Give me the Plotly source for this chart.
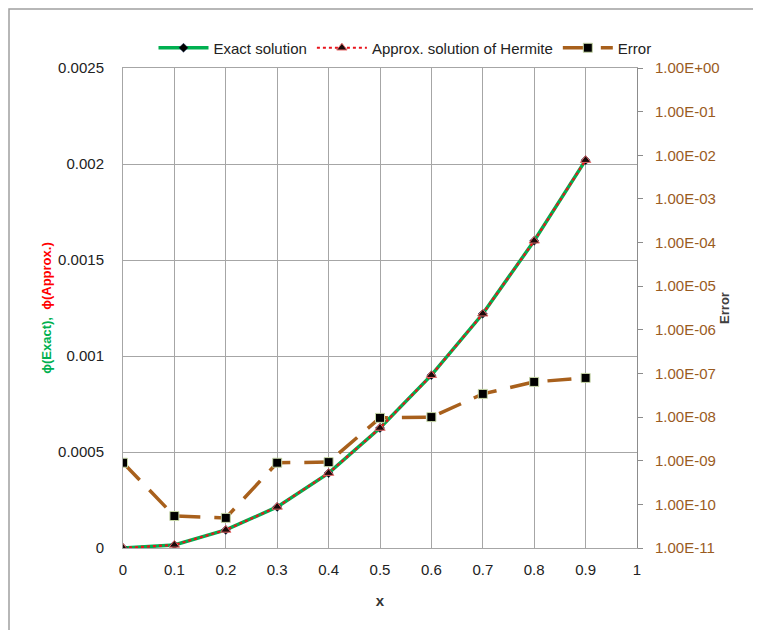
import plotly.graph_objects as go

x = [0, 0.1, 0.2, 0.3, 0.4, 0.5, 0.6, 0.7, 0.8, 0.9]
phi_exact = [0.0, 0.000016, 0.000094, 0.000214, 0.00039, 0.000625, 0.0009, 0.00122, 0.0016, 0.00202]
phi_approx = [0.0, 0.000016, 0.000094, 0.000214, 0.00039, 0.000625, 0.0009, 0.00122, 0.0016, 0.00202]
error = [9.0e-10, 5.4e-11, 4.9e-11, 9.0e-10, 9.3e-10, 9.6e-9, 1.0e-8, 3.4e-8, 6.4e-8, 7.9e-8]

left_ticks = [0, 0.0005, 0.001, 0.0015, 0.002, 0.0025]
left_labels = ["0", "0.0005", "0.001", "0.0015", "0.002", "0.0025"]
right_ticks = [10.0 ** e for e in range(-11, 1)]
right_labels = ["1.00E-11", "1.00E-10", "1.00E-09", "1.00E-08", "1.00E-07", "1.00E-06",
                "1.00E-05", "1.00E-04", "1.00E-03", "1.00E-02", "1.00E-01", "1.00E+00"]
x_ticks = [0, 0.1, 0.2, 0.3, 0.4, 0.5, 0.6, 0.7, 0.8, 0.9, 1]
x_labels = ["0", "0.1", "0.2", "0.3", "0.4", "0.5", "0.6", "0.7", "0.8", "0.9", "1"]

GREEN = "#00B050"
RED = "#E8141C"
BROWN = "#A8601C"
GRID = "#A6A6A6"
FONT = "Liberation Sans, Arial, sans-serif"

# page body adds an 8px offset; plot area on screen: x 123..637, y 68..548
OFF = 8
W, H = 761 - OFF, 630 - OFF
L, T = 123 - OFF, 68 - OFF
R = OFF + W - 637
B = OFF + H - 548
PW, PH = 637 - 123, 548 - 68


def px(sx):
    return (sx - 123) / PW


def py(sy):
    return (548 - sy) / PH


fig = go.Figure()
fig.add_trace(go.Scatter(
    x=x, y=phi_exact, name="Exact solution", mode="lines+markers",
    line=dict(color=GREEN, width=3.5),
    marker=dict(symbol="diamond", size=7, color="#000000", line=dict(color="#1F3864", width=0.5)),
))
fig.add_trace(go.Scatter(
    x=x, y=phi_approx, name="Approx. solution of Hermite", mode="lines+markers",
    line=dict(color=RED, width=2.2, dash="dot"),
    marker=dict(symbol="triangle-up", size=9, color="#1A0A0A", line=dict(color="#E86A6A", width=1)),
))
fig.add_trace(go.Scatter(
    x=x, y=error, name="Error", mode="lines+markers", yaxis="y2",
    line=dict(color=BROWN, width=3.5, dash="24px,14px"),
    marker=dict(symbol="square", size=9, color="#000000", line=dict(color="#C8D8A8", width=1)),
))

fig.update_layout(
    width=W, height=H,
    margin=dict(l=L, r=R, t=T, b=B),
    paper_bgcolor="white", plot_bgcolor="white",
    font=dict(family=FONT, size=15, color="#222222"),
    showlegend=True,
    legend=dict(orientation="h", x=px(405), xanchor="center", y=py(48), yanchor="middle",
                font=dict(family=FONT, size=15, color="#222222"),
                bgcolor="rgba(0,0,0,0)", itemwidth=50, tracegroupgap=0),
    xaxis=dict(
        range=[0, 1], tickvals=x_ticks, ticktext=x_labels,
        showgrid=True, gridcolor=GRID, gridwidth=1,
        zeroline=False, showline=True, linecolor=GRID, linewidth=1, mirror=True,
        ticks="", ticklabelstandoff=8,
        tickfont=dict(size=15, color="#222222"),
        title=dict(text="<b>x</b>", font=dict(size=15, color="#333333"), standoff=18),
    ),
    yaxis=dict(
        range=[0, 0.0025], tickvals=left_ticks, ticktext=left_labels,
        showgrid=True, gridcolor=GRID, gridwidth=1,
        zeroline=False, showline=True, linecolor=GRID, linewidth=1,
        ticks="", ticklabelstandoff=15,
        tickfont=dict(size=15, color="#222222"),
        title=dict(text="<b><span style='color:#00B050'>ϕ(Exact),</span>  <span style='color:#FF0000'>ϕ(Approx.)</span></b>",
                   font=dict(size=13), standoff=3),
    ),
    yaxis2=dict(
        type="log", range=[-11, 0], overlaying="y", side="right",
        tickvals=right_ticks, ticktext=right_labels,
        showgrid=False, zeroline=False, showline=True, linecolor="#8C8C8C", linewidth=1,
        ticks="outside", ticklen=5, tickcolor="#8C8C8C", ticklabelstandoff=9,
        tickfont=dict(size=15, color="#9A5B1E"),
        title=dict(text="<b>Error</b>", font=dict(size=13, color="#404040"), standoff=1),
    ),
    shapes=[
        dict(type="rect", xref="paper", yref="paper",
             x0=px(9), x1=px(800),
             y0=py(660), y1=py(9),
             line=dict(color="#A0A0A0", width=1.5), fillcolor="rgba(0,0,0,0)", layer="below"),
    ],
)

fig.write_html("out.html")
